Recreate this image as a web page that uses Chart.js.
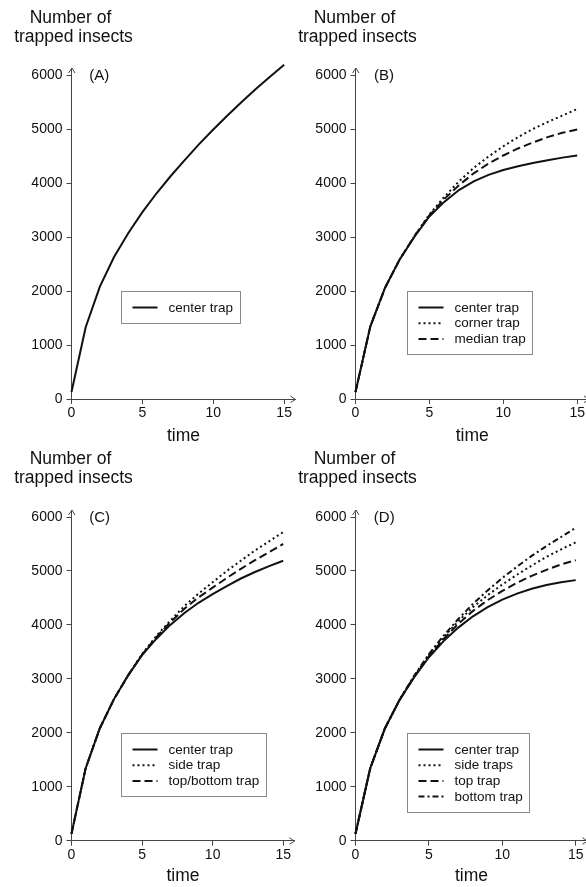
<!DOCTYPE html>
<html>
<head>
<meta charset="utf-8">
<script src="https://cdn.jsdelivr.net/npm/chart.js@4.4.1/dist/chart.umd.min.js"></script>
<style>
  html, body { margin: 0; padding: 0; background: #fff; }
  #wrap { position: relative; width: 586px; height: 887px; overflow: hidden; }
  canvas { position: absolute; }
</style>
</head>
<body>
<div id="wrap">
  <canvas id="panelA" width="305" height="450" style="left:0px;top:0px;width:305px;height:450px"></canvas>
  <canvas id="panelB" width="305" height="450" style="left:293px;top:0px;width:305px;height:450px"></canvas>
  <canvas id="panelC" width="305" height="442" style="left:0px;top:445px;width:305px;height:442px"></canvas>
  <canvas id="panelD" width="305" height="442" style="left:293px;top:445px;width:305px;height:442px"></canvas>
</div>
<script>
console.log("ready");

// time steps and tick labels
var TIME = [0, 1, 2, 3, 4, 5, 6, 7, 8, 9, 10, 11, 12, 13, 14, 15];
var X_TICKS = [0, 5, 10, 15];
var Y_TICKS = [0, 1000, 2000, 3000, 4000, 5000, 6000];

// (A)
var A_CENTER = [130, 1330, 2080, 2630, 3070, 3460, 3810, 4130, 4430, 4720, 4990, 5250, 5500, 5740, 5970, 6190];

// (B)
var B_CENTER = [130, 1340, 2060, 2590, 3010, 3380, 3650, 3870, 4030, 4150, 4240, 4310, 4370, 4420, 4470, 4510];
var B_CORNER = [130, 1340, 2060, 2590, 3020, 3420, 3740, 4030, 4280, 4490, 4680, 4850, 5000, 5130, 5250, 5370];
var B_MEDIAN = [130, 1340, 2060, 2590, 3020, 3400, 3700, 3960, 4180, 4360, 4510, 4640, 4750, 4850, 4930, 4990];

// (C)
var C_CENTER = [130, 1340, 2080, 2620, 3060, 3440, 3740, 4000, 4220, 4410, 4570, 4720, 4860, 4980, 5090, 5190];
var C_SIDE = [130, 1340, 2080, 2620, 3060, 3460, 3790, 4080, 4350, 4580, 4790, 5000, 5190, 5380, 5550, 5720];
var C_TOPBOTTOM = [130, 1340, 2080, 2620, 3060, 3450, 3770, 4050, 4300, 4510, 4690, 4870, 5040, 5200, 5350, 5500];

// (D)
var D_CENTER = [130, 1340, 2080, 2610, 3030, 3400, 3700, 3950, 4160, 4330, 4470, 4580, 4670, 4740, 4790, 4830];
var D_SIDE = [130, 1340, 2080, 2610, 3050, 3440, 3770, 4070, 4330, 4550, 4750, 4930, 5100, 5260, 5400, 5530];
var D_TOP = [130, 1340, 2080, 2610, 3040, 3420, 3740, 4020, 4260, 4460, 4630, 4780, 4910, 5020, 5120, 5200];
var D_BOTTOM = [130, 1340, 2080, 2610, 3060, 3460, 3800, 4110, 4390, 4640, 4870, 5080, 5280, 5460, 5630, 5800];

var X_MAX = 15.8;
var Y_MAX = 6130;
var FONT = "'Liberation Sans', Arial, sans-serif";
var INK = "#111";
var AXIS = "#444";

var DASH = {
    solid: [],
    dotted: [2, 3],
    dashed: [8, 4],
    dashdot: [6, 3, 2, 3]
};

function points(values) {
    return TIME.map(function (t, i) { return { x: t, y: values[i] }; });
}

function series(label, values, dash) {
    return {
        label: label,
        data: points(values),
        borderColor: INK,
        borderWidth: 2,
        borderDash: DASH[dash],
        pointRadius: 0,
        tension: 0,
        fill: false,
        clip: false
    };
}

// arrows, panel letter, y title and boxed legend
var decor = {
    id: "decor",
    afterDraw: function (chart, args, opts) {
        var ctx = chart.ctx;
        var area = chart.chartArea;
        var xs = chart.scales.x;
        var ys = chart.scales.y;
        ctx.save();

        // arrow heads
        ctx.strokeStyle = AXIS;
        ctx.lineWidth = 1;
        ctx.beginPath();
        ctx.moveTo(area.left - 3, area.top + 5);
        ctx.lineTo(area.left + 0.5, area.top);
        ctx.lineTo(area.left + 3.5, area.top + 5);
        ctx.moveTo(area.right - 5, area.bottom - 3);
        ctx.lineTo(area.right, area.bottom + 0.5);
        ctx.lineTo(area.right - 5, area.bottom + 3.5);
        ctx.stroke();

        // y title
        ctx.fillStyle = INK;
        ctx.textAlign = "center";
        ctx.textBaseline = "alphabetic";
        ctx.font = "17.5px " + FONT;
        ctx.fillText("Number of", area.left - 1, area.top - opts.titleOff);
        ctx.fillText("trapped insects", area.left + 2, area.top - opts.titleOff + 19);

        // panel letter
        ctx.font = "15px " + FONT;
        ctx.textAlign = "left";
        ctx.textBaseline = "middle";
        ctx.fillText(opts.letter, xs.getPixelForValue(1.25), ys.getPixelForValue(6000) + 1);

        // legend box
        var sets = chart.data.datasets;
        ctx.font = "13.5px " + FONT;
        var w = 0;
        sets.forEach(function (d) { w = Math.max(w, ctx.measureText(d.label).width); });
        var bx = Math.round(xs.getPixelForValue(3.5)) + 0.5;
        var by = Math.round(ys.getPixelForValue(2000)) + 0.5;
        var bw = Math.round(w + 54);
        var rowH = 15.7;
        var bh = Math.round(16 + (sets.length - 1) * rowH + 15.5);
        ctx.strokeStyle = "#8a8a8a";
        ctx.lineWidth = 1;
        ctx.setLineDash([]);
        ctx.strokeRect(bx, by, bw, bh);
        sets.forEach(function (d, i) {
            var cy = by + 16 + i * rowH;
            ctx.strokeStyle = INK;
            ctx.lineWidth = 2;
            ctx.setLineDash(d.borderDash);
            ctx.beginPath();
            ctx.moveTo(bx + 11, cy);
            ctx.lineTo(bx + 36, cy);
            ctx.stroke();
            ctx.setLineDash([]);
            ctx.fillStyle = INK;
            ctx.textAlign = "left";
            ctx.textBaseline = "middle";
            ctx.fillText(d.label, bx + 47, cy + 0.5);
        });
        ctx.restore();
    }
};

function makePanel(id, letter, datasets, lay) {
    var ctx = document.getElementById(id);
    return new Chart(ctx, {
        type: "line",
        data: { datasets: datasets },
        plugins: [decor],
        options: {
            responsive: false,
            animation: false,
            events: [],
            layout: { padding: { left: 0, top: lay.top, right: lay.right, bottom: 0 } },
            plugins: {
                legend: { display: false },
                tooltip: { enabled: false },
                decor: { letter: letter, titleOff: lay.titleOff }
            },
            scales: {
                x: {
                    type: "linear",
                    min: 0,
                    max: X_MAX,
                    afterBuildTicks: function (s) { s.ticks = X_TICKS.map(function (v) { return { value: v }; }); },
                    afterFit: function (s) { s.height = lay.xh; },
                    ticks: {
                        color: INK, font: { family: FONT, size: 14 }, padding: 1, maxRotation: 0, autoSkip: false,
                        callback: function (v) { return String(v); }
                    },
                    grid: { drawOnChartArea: false, drawTicks: true, tickLength: 5, color: AXIS },
                    border: { display: true, color: AXIS, width: 1 },
                    title: { display: true, text: "time", color: INK, font: { family: FONT, size: 17.5 }, padding: { top: 0, bottom: lay.titlePad } }
                },
                y: {
                    type: "linear",
                    min: 0,
                    max: Y_MAX,
                    afterBuildTicks: function (s) { s.ticks = Y_TICKS.map(function (v) { return { value: v }; }); },
                    afterFit: function (s) { s.width = lay.yw; },
                    ticks: {
                        color: INK, font: { family: FONT, size: 14 }, padding: 4,
                        callback: function (v) { return String(v); }
                    },
                    grid: { drawOnChartArea: false, drawTicks: true, tickLength: 5, color: AXIS },
                    border: { display: true, color: AXIS, width: 1 }
                }
            }
        }
    });
}

function mainProgram() {
    makePanel("panelA", "(A)", [
        series("center trap", A_CENTER, "solid")
    ], { top: 68, right: 305 - 295.5, yw: 71.5, xh: 450 - 399, titlePad: 3.5, titleOff: 45 });

    makePanel("panelB", "(B)", [
        series("center trap", B_CENTER, "solid"),
        series("corner trap", B_CORNER, "dotted"),
        series("median trap", B_MEDIAN, "dashed")
    ], { top: 68, right: 305 - 296, yw: 62.5, xh: 450 - 399, titlePad: 3.5, titleOff: 45 });

    makePanel("panelC", "(C)", [
        series("center trap", C_CENTER, "solid"),
        series("side trap", C_SIDE, "dotted"),
        series("top/bottom trap", C_TOPBOTTOM, "dashed")
    ], { top: 65, right: 305 - 294.5, yw: 71.5, xh: 442 - 395.7, titlePad: 0.5, titleOff: 46 });

    makePanel("panelD", "(D)", [
        series("center trap", D_CENTER, "solid"),
        series("side traps", D_SIDE, "dotted"),
        series("top trap", D_TOP, "dashed"),
        series("bottom trap", D_BOTTOM, "dashdot")
    ], { top: 65, right: 305 - 294.5, yw: 62.5, xh: 442 - 395.7, titlePad: 0.5, titleOff: 46 });
}

mainProgram();
</script>
</body>
</html>
